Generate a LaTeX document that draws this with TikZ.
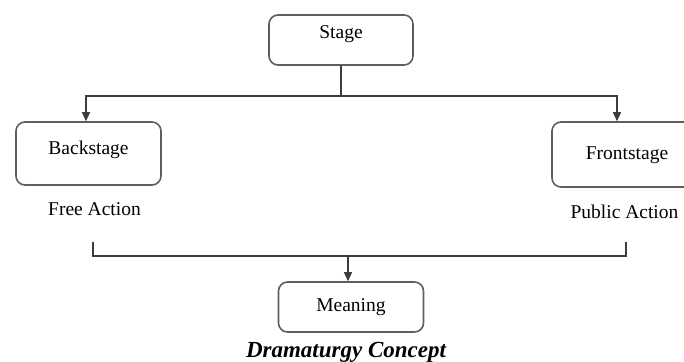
\documentclass[tikz,border=0pt]{standalone}
\usepackage{fontspec}
\setmainfont{Liberation Serif}
\usetikzlibrary{arrows.meta}
\definecolor{boxgray}{HTML}{5E5E5E}
\definecolor{linegray}{HTML}{3C3C3C}
\begin{document}
\begin{tikzpicture}[x=1pt,y=-1pt,
  stagebox/.style={draw=boxgray,line width=1.6pt,rounded corners=9pt,
    inner sep=0pt,text=black,font=\fontsize{19.5}{22}\selectfont,text height=13pt},
  plain/.style={inner sep=0pt,text=black,font=\fontsize{19.5}{22}\selectfont},
  conn/.style={draw=linegray,line width=1.3pt},
  arr/.style={conn,-{Triangle[length=9pt,width=8pt]}}]
\useasboundingbox (0,0) rectangle (684,361);
\node[stagebox,minimum width=144pt,minimum height=50pt,text depth=15pt] (stage) at (341,40) {Stage};
\node[stagebox,minimum width=145pt,minimum height=63pt,text depth=11pt] (back) at (88.5,153.5) {Backstage};
\node[stagebox,minimum width=150pt,minimum height=65pt,text depth=3pt] (front) at (627,154.5) {Frontstage};
\node[stagebox,minimum width=145pt,minimum height=50pt,text depth=5pt] (meaning) at (351,307) {Meaning};
\node[plain,anchor=base] (free) at (94.5,215) {Free Action};
\node[plain,anchor=base] (public) at (624.5,218) {Public Action};
\node[inner sep=0pt,anchor=base,font=\fontsize{23}{26}\selectfont\bfseries\itshape] (cap) at (346,357) {Dramaturgy Concept};
\coordinate (hl) at (86,96);
\coordinate (hr) at (617,96);
\coordinate (bl) at (93,242);
\coordinate (br) at (626,242);
\coordinate (bm) at (348,256);
\draw[conn] (stage.south) -- (stage.south |- hl);
\draw[arr] (stage.south |- hl) -- (hl) -- (hl |- back.north);
\draw[arr] (stage.south |- hr) -- (hr) -- (hr |- front.north);
\draw[conn] (bl) -- (bl |- bm) -- (br |- bm) -- (br);
\draw[arr] (bm) -- (bm |- meaning.north);
\end{tikzpicture}
\end{document}
